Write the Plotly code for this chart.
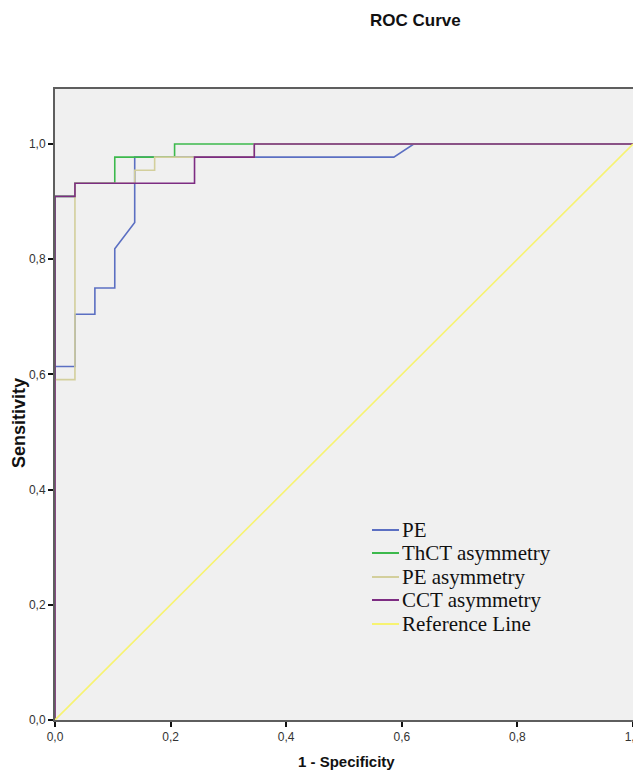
import plotly.graph_objects as go

# ROC curve data (1 - Specificity, Sensitivity)
pe_x = [0, 0, 0.0345, 0.0345, 0.0690, 0.0690, 0.1034, 0.1034, 0.1379, 0.1379, 0.5862, 0.6207, 1.0]
pe_y = [0, 0.6136, 0.6136, 0.7045, 0.7045, 0.7500, 0.7500, 0.8182, 0.8636, 0.9773, 0.9773, 1.0, 1.0]

thct_x = [0, 0, 0.0345, 0.0345, 0.1034, 0.1034, 0.2069, 0.2069, 1.0]
thct_y = [0, 0.9091, 0.9091, 0.9318, 0.9318, 0.9773, 0.9773, 1.0, 1.0]

peasym_x = [0, 0, 0.0345, 0.0345, 0.1379, 0.1379, 0.1724, 0.1724, 0.3448, 0.3448, 1.0]
peasym_y = [0, 0.5909, 0.5909, 0.9318, 0.9318, 0.9545, 0.9545, 0.9773, 0.9773, 1.0, 1.0]

cct_x = [0, 0, 0.0345, 0.0345, 0.2414, 0.2414, 0.3448, 0.3448, 1.0]
cct_y = [0, 0.9091, 0.9091, 0.9318, 0.9318, 0.9773, 0.9773, 1.0, 1.0]

ref_x = [0, 1]
ref_y = [0, 1]

series_names = ["PE", "ThCT asymmetry", "PE asymmetry", "CCT asymmetry", "Reference Line"]
series_x = [pe_x, thct_x, peasym_x, cct_x, ref_x]
series_y = [pe_y, thct_y, peasym_y, cct_y, ref_y]
series_colors = ["#5b6fc2", "#3cb94c", "#d3cf9c", "#7d2c82", "#f7f371"]

tick_vals = [0, 0.2, 0.4, 0.6, 0.8, 1.0]
tick_text = ["0,0", "0,2", "0,4", "0,6", "0,8", "1,0"]

# page offset (browser body margin)
OFF = 8
W, H = 641 - OFF, 771 - OFF
# plot box in page pixels
PL, PR, PT, PB = 55, 633, 89, 720
L, R, T, B = PL - OFF, W - (PR - OFF), PT - OFF, H - (PB - OFF)
pw, ph = PR - PL, PB - PT


def px(xp):
    return (xp - PL) / pw


def py(yp):
    return (PB - yp) / ph


fig = go.Figure()
for name, xs, ys, col in zip(series_names, series_x, series_y, series_colors):
    fig.add_trace(go.Scatter(x=xs, y=ys, mode="lines", name=name, showlegend=False,
                             line=dict(color=col, width=1.6)))

axis_common = dict(showgrid=False, zeroline=False, showline=True, mirror=True,
                   linecolor="#5e5e5e", linewidth=2, ticks="outside", ticklen=5,
                   tickwidth=2, tickcolor="#111", tickvals=tick_vals, ticktext=tick_text,
                   layer="below traces", ticklabeloverflow="allow",
                   tickfont=dict(family="Arial, Liberation Sans", size=12, color="#333"))

annotations = [
    dict(text="<b>ROC Curve</b>", xref="paper", yref="paper",
         x=px(415), y=py(20), showarrow=False, xanchor="center", yanchor="middle",
         font=dict(family="Arial, Liberation Sans", size=17, color="#111")),
    dict(text="<b>1 - Specificity</b>", xref="paper", yref="paper",
         x=px(346), y=py(762), showarrow=False, xanchor="center", yanchor="middle",
         font=dict(family="Arial, Liberation Sans", size=15, color="#111")),
    dict(text="<b>Sensitivity</b>", xref="paper", yref="paper",
         x=px(19), y=py(423), showarrow=False, xanchor="center", yanchor="middle",
         textangle=-90,
         font=dict(family="Arial, Liberation Sans", size=18, color="#111")),
]

shapes = []
legend_y = [530, 553, 577, 600, 624]
for name, col, ly in zip(series_names, series_colors, legend_y):
    shapes.append(dict(type="line", xref="paper", yref="paper",
                       x0=px(372), x1=px(399), y0=py(ly), y1=py(ly),
                       line=dict(color=col, width=2)))
    annotations.append(dict(text=name, xref="paper", yref="paper",
                            x=px(400), y=py(ly), showarrow=False,
                            xanchor="left", yanchor="middle",
                            font=dict(family="Liberation Serif, Times New Roman, serif",
                                      size=21, color="#111")))

fig.update_layout(
    width=W, height=H,
    margin=dict(l=L, r=R, t=T, b=B, pad=0, autoexpand=False),
    paper_bgcolor="white", plot_bgcolor="#f0f0f0",
    xaxis=dict(range=[0, 1], **axis_common),
    yaxis=dict(range=[0, 1 + (144 - PT) / 576], **axis_common),
    showlegend=False,
    annotations=annotations,
    shapes=shapes,
)

fig.write_html("out.html")
